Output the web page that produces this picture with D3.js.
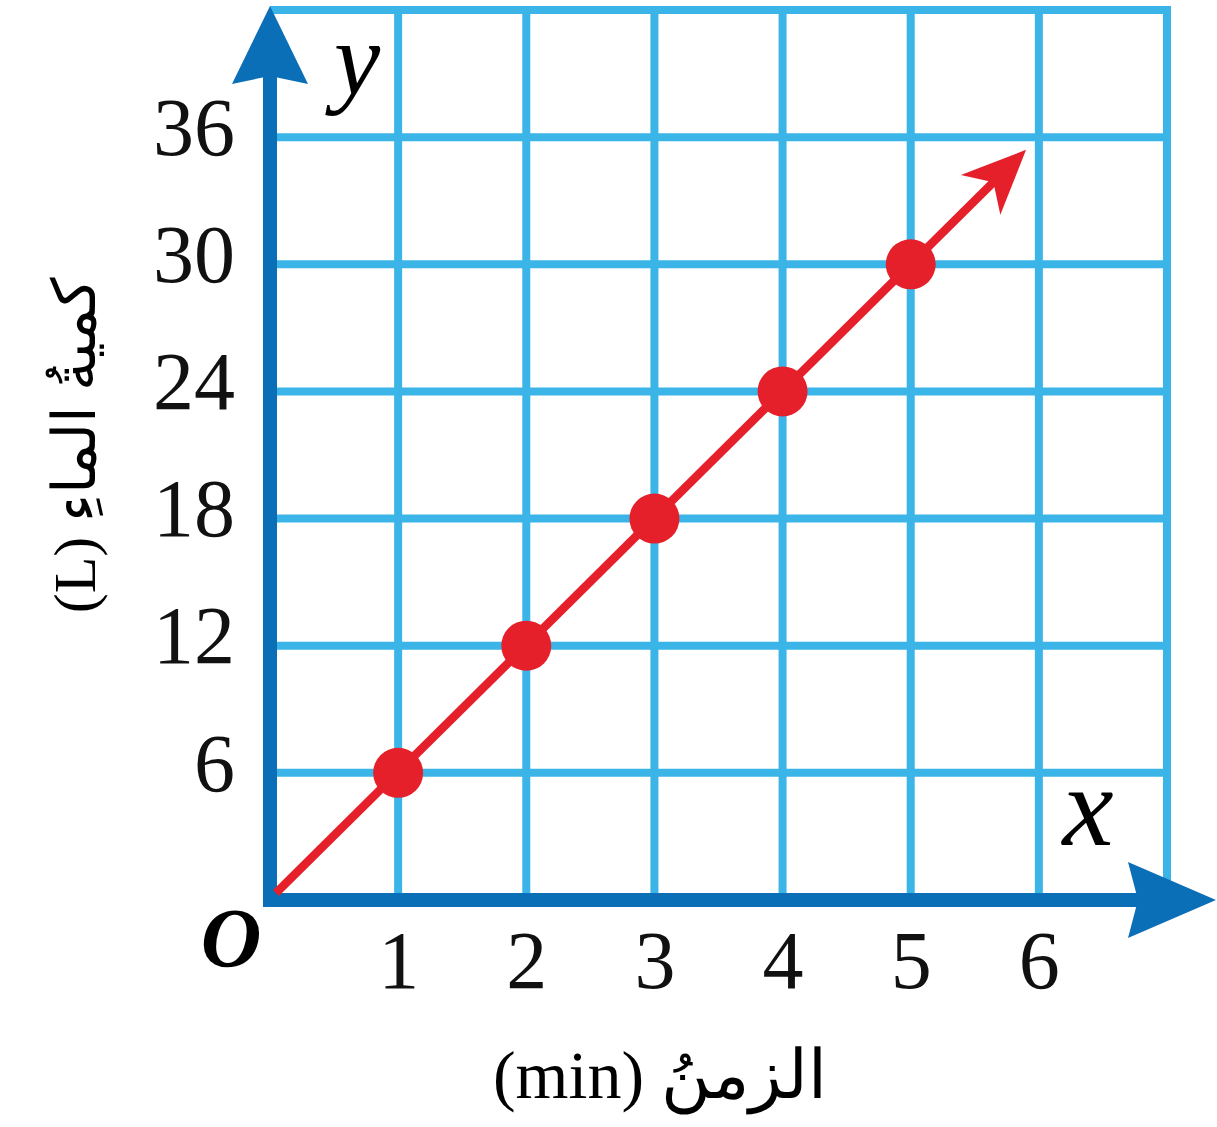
<!DOCTYPE html>
<html>
<head>
<meta charset="utf-8">
<script src="https://cdn.jsdelivr.net/npm/d3@7"></script>
<style>
  body { margin: 0; background: #fff; }
  svg { display: block; }
</style>
</head>
<body>
<div id="chart"></div>
<script>
// values
var minutes = [1, 2, 3, 4, 5];
var litres = [6, 12, 18, 24, 30];
var xTicks = [1, 2, 3, 4, 5, 6];
var yTicks = [6, 12, 18, 24, 30, 36];
var lineEnd = [5.9, 35.4];   // where the red arrow stops

var W = 1217, H = 1127;
var axisBlue = '#0b6fb8', gridBlue = '#3bb4e7', red = '#e5202a';
var serif = "'Liberation Serif', 'DejaVu Serif', serif";

var svg = d3.select('#chart')
    .append('svg')
    .attr('width', W)
    .attr('height', H)

// scales
var x = d3.scaleLinear().domain([0, 7]).range([270, 1167]);
var y = d3.scaleLinear().domain([0, 42]).range([900, 10]);

// grid
var gridX = d3.range(1, 8), gridY = d3.range(6, 43, 6);
svg.append('g').selectAll('line')
    .data(gridX)
    .enter()
    .append('line')
    .attr('x1', d => x(d)).attr('x2', d => x(d))
    .attr('y1', y(42) - 4).attr('y2', y(0))
    .style('stroke', gridBlue)
    .style('stroke-width', 8)
svg.append('g').selectAll('line')
    .data(gridY)
    .enter()
    .append('line')
    .attr('x1', x(0)).attr('x2', x(7) + 4)
    .attr('y1', d => y(d)).attr('y2', d => y(d))
    .style('stroke', gridBlue)
    .style('stroke-width', 8)

// axes with arrowheads
var ax = svg.append('g')
ax.append('line')
    .attr('x1', x(0)).attr('x2', x(0))
    .attr('y1', y(0) + 7).attr('y2', 60)
    .style('stroke', axisBlue).style('stroke-width', 14)
ax.append('path')
    .attr('d', `M${x(0)},6 L${x(0) - 38},84 L${x(0)},76 L${x(0) + 38},84 Z`)
    .style('fill', axisBlue)
ax.append('line')
    .attr('x1', x(0) - 7).attr('x2', 1160)
    .attr('y1', y(0)).attr('y2', y(0))
    .style('stroke', axisBlue).style('stroke-width', 14)
ax.append('path')
    .attr('d', `M1216,${y(0)} L1128,${y(0) - 38} L1138,${y(0)} L1128,${y(0) + 38} Z`)
    .style('fill', axisBlue)

// tick labels
var yAxis = svg.append('g')
    .attr('transform', `translate(${x(0)},0)`)
    .call(d3.axisLeft(y).tickValues(yTicks).tickSize(0).tickPadding(35))
yAxis.select('.domain').remove()
yAxis.selectAll('text')
    .attr('dy', '0.21em')
    .style('font-family', serif)
    .style('font-size', '82px')
    .style('fill', '#111')

var xAxis = svg.append('g')
    .attr('transform', `translate(0,${y(0)})`)
    .call(d3.axisBottom(x).tickValues(xTicks).tickFormat(d3.format('d')).tickSize(0).tickPadding(30))
xAxis.select('.domain').remove()
xAxis.selectAll('text')
    .style('font-family', serif)
    .style('font-size', '82px')
    .style('fill', '#111')

// origin and axis letters
svg.append('text')
    .attr('x', 231).attr('y', 967)
    .attr('text-anchor', 'middle')
    .style('font-family', serif)
    .style('font-size', '84px')
    .style('font-style', 'italic')
    .style('font-weight', 'bold')
    .text('O')
svg.append('text')
    .attr('x', 357).attr('y', 94)
    .attr('text-anchor', 'middle')
    .style('font-family', serif)
    .style('font-size', '104px')
    .style('font-style', 'italic')
    .text('y')
svg.append('text')
    .attr('x', 1088).attr('y', 845)
    .attr('text-anchor', 'middle')
    .style('font-family', serif)
    .style('font-size', '115px')
    .style('font-style', 'italic')
    .text('x')

// axis titles
svg.append('text')
    .attr('x', 660).attr('y', 1098)
    .attr('text-anchor', 'middle')
    .style('font-family', serif)
    .style('font-size', '68px')
    .text('(min) الزمنُ')
svg.append('text')
    .attr('transform', 'translate(95,445) rotate(-90)')
    .attr('text-anchor', 'middle')
    .style('font-family', serif)
    .style('font-size', '60px')
    .text('(L) كميةُ الماءِ')

// red line with arrow
var ex = x(lineEnd[0]), ey = y(lineEnd[1]);
var ang = Math.atan2(ey - y(0), ex - x(0));
var ca = Math.cos(ang), sa = Math.sin(ang);
function pt(along, perp) {
    return [ex + along * ca - perp * sa, ey + along * sa + perp * ca];
}
svg.append('line')
    .attr('x1', x(0) + 6).attr('y1', y(0) - 7)
    .attr('x2', pt(-45, 0)[0]).attr('y2', pt(-45, 0)[1])
    .style('stroke', red)
    .style('stroke-width', 8.5)
svg.append('path')
    .attr('d', 'M' + [pt(0, 0), pt(-64, -28), pt(-46, 0), pt(-64, 28)].join('L') + 'Z')
    .style('fill', red)

// points
svg.append('g').selectAll('circle')
    .data(minutes.map((m, i) => ({m: m, l: litres[i]})))
    .enter()
    .append('circle')
    .attr('cx', d => x(d.m))
    .attr('cy', d => y(d.l))
    .attr('r', 25)
    .style('fill', red)
</script>
</body>
</html>
